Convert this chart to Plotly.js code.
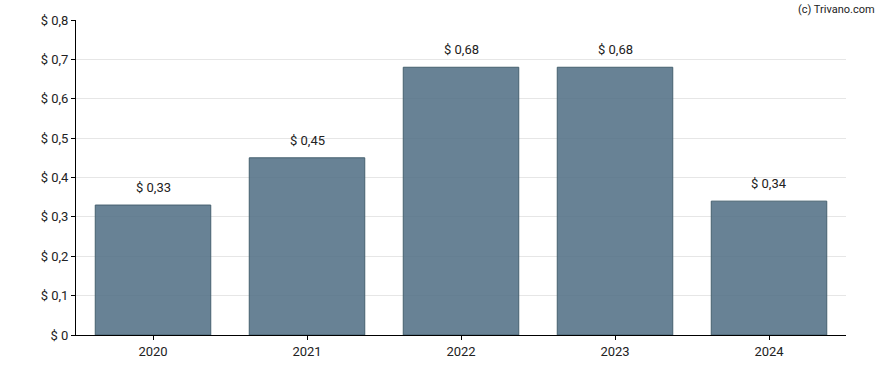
<!DOCTYPE html>
<html>
<head>
<meta charset="utf-8">
<script src="https://cdn.plot.ly/plotly-3.0.1.min.js"></script>
<style>html,body{margin:0;padding:0;background:#fff;}#chart{width:888px;height:370px;}</style>
</head>
<body>
<div id="chart"></div>
<script>
const years = ['2020', '2021', '2022', '2023', '2024'];
const values = [0.33, 0.45, 0.68, 0.68, 0.34];
const labels = ['$ 0,33', '$ 0,45', '$ 0,68', '$ 0,68', '$ 0,34'];
const yTicks = [0, 0.1, 0.2, 0.3, 0.4, 0.5, 0.6, 0.7, 0.8];
const yTickText = ['$ 0', '$ 0,1', '$ 0,2', '$ 0,3', '$ 0,4', '$ 0,5', '$ 0,6', '$ 0,7', '$ 0,8'];

const font = {family: 'Roboto, Arial, sans-serif', size: 13, color: '#222'};

const trace = {
  type: 'bar',
  x: years,
  y: values,
  width: 0.75,
  marker: {color: 'rgba(79,109,131,0.86)', line: {color: '#45606f', width: 1}},
  hoverinfo: 'none'
};

const annotations = years.map((yr, i) => ({
  x: i, y: values[i], text: labels[i], showarrow: false,
  yanchor: 'bottom', yshift: 8, font: font
}));
annotations.push({
  xref: 'paper', yref: 'paper', x: 1.04, y: 1.06, xanchor: 'right', yanchor: 'top',
  text: '(c) Trivano.com', showarrow: false, font: {family: 'Roboto, Arial, sans-serif', size: 11, color: '#222'}
});

const layout = {
  width: 888, height: 370,
  margin: {l: 76, r: 42, t: 20, b: 35},
  paper_bgcolor: '#fff', plot_bgcolor: '#fff',
  font: font,
  showlegend: false,
  xaxis: {
    type: 'category', range: [-0.5, 4.5], autorange: false,
    showline: true, linecolor: '#000', linewidth: 1,
    ticks: 'outside', ticklen: 4, tickcolor: '#000', showgrid: false,
    tickfont: font
  },
  yaxis: {
    range: [0, 0.8], autorange: false, tickvals: yTicks, ticktext: yTickText,
    showline: true, linecolor: '#000', linewidth: 1,
    ticks: 'outside', ticklen: 4, tickcolor: '#000',
    showgrid: true, gridcolor: '#e6e6e6', gridwidth: 1,
    zeroline: false, tickfont: font
  },
  annotations: annotations
};

Plotly.newPlot('chart', [trace], layout, {displayModeBar: false, staticPlot: true});
</script>
</body>
</html>
